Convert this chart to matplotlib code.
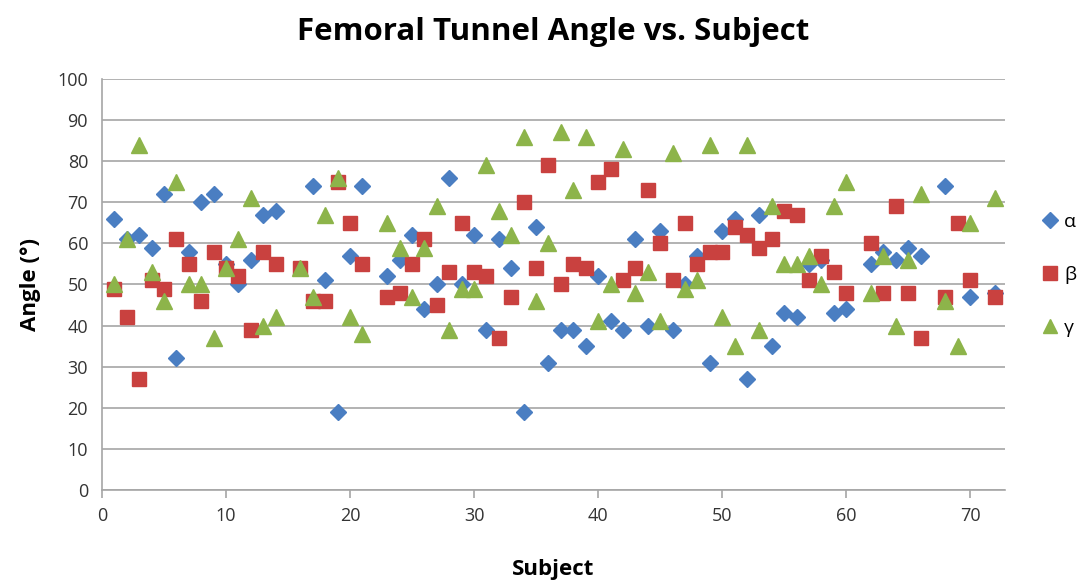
import matplotlib
matplotlib.use("Agg")
import matplotlib.pyplot as plt

plt.rcParams['font.family'] = ['Open Sans', 'DejaVu Sans']

subjects = [1, 2, 3, 4, 5, 6, 7, 8, 9, 10, 11, 12, 13, 14, 16, 17, 18, 19, 20, 21,
            23, 24, 25, 26, 27, 28, 29, 30, 31, 32, 33, 34, 35, 36, 37, 38, 39, 40,
            41, 42, 43, 44, 45, 46, 47, 48, 49, 50, 51, 52, 53, 54, 55, 56, 57, 58,
            59, 60, 62, 63, 64, 65, 66, 68, 69, 70, 72]

alpha_subjects = [1, 2, 3, 4, 5, 6, 7, 8, 9, 10, 11, 12, 13, 14, 17, 18, 19, 20, 21,
                  23, 24, 25, 26, 27, 28, 29, 30, 31, 32, 33, 34, 35, 36, 37, 38, 39, 40,
                  41, 42, 43, 44, 45, 46, 47, 48, 49, 50, 51, 52, 53, 54, 55, 56, 57, 58,
                  59, 60, 62, 63, 64, 65, 66, 68, 70, 72]
alpha = [66, 61, 62, 59, 72, 32, 58, 70, 72, 55, 50, 56, 67, 68, 74, 51, 19, 57, 74,
         52, 56, 62, 44, 50, 76, 50, 62, 39, 61, 54, 19, 64, 31, 39, 39, 35, 52,
         41, 39, 61, 40, 63, 39, 50, 57, 31, 63, 66, 27, 67, 35, 43, 42, 55, 56,
         43, 44, 55, 58, 56, 59, 57, 74, 47, 48]

beta = [49, 42, 27, 51, 49, 61, 55, 46, 58, 54, 52, 39, 58, 55, 54, 46, 46, 75, 65, 55,
        47, 48, 55, 61, 45, 53, 65, 53, 52, 37, 47, 70, 54, 79, 50, 55, 54, 75,
        78, 51, 54, 73, 60, 51, 65, 55, 58, 58, 64, 62, 59, 61, 68, 67, 51, 57,
        53, 48, 60, 48, 69, 48, 37, 47, 65, 51, 47]

gamma = [50, 61, 84, 53, 46, 75, 50, 50, 37, 54, 61, 71, 40, 42, 54, 47, 67, 76, 42, 38,
         65, 59, 47, 59, 69, 39, 49, 49, 79, 68, 62, 86, 46, 60, 87, 73, 86, 41,
         50, 83, 48, 53, 41, 82, 49, 51, 84, 42, 35, 84, 39, 69, 55, 55, 57, 50,
         69, 75, 48, 57, 40, 56, 72, 46, 35, 65, 71]

fig = plt.figure(figsize=(10.87, 5.84), dpi=100)
ax = fig.add_axes([0.0938, 0.161, 0.8307, 0.7037])

ax.plot(alpha_subjects, alpha, linestyle='none', marker='D', markersize=8.5,
        color='#4A7EC2', label='α', zorder=3)
ax.plot(subjects, beta, linestyle='none', marker='s', markersize=10.5,
        color='#C9413F', label='β', zorder=4)
ax.plot(subjects, gamma, linestyle='none', marker='^', markersize=11.5,
        color='#8DB44A', label='γ', zorder=5)

ax.set_xlim(0, 72.8)
ax.set_ylim(0, 100)
ax.set_xticks(range(0, 71, 10))
ax.set_yticks(range(0, 101, 10))
ax.grid(axis='y', color='#A6A6A6', linewidth=1.2)
ax.set_axisbelow(True)
for s in ['top', 'right']:
    ax.spines[s].set_visible(False)
for s in ['left', 'bottom']:
    ax.spines[s].set_color('#A6A6A6')
    ax.spines[s].set_linewidth(1.2)
ax.tick_params(axis='both', labelsize=13, color='#A6A6A6', length=6, width=1.2,
               labelcolor='#333333')
ax.tick_params(axis='x', pad=6)
ax.tick_params(axis='y', length=0, pad=10)

ax.set_title('Femoral Tunnel Angle vs. Subject', fontsize=22.5, fontweight='bold',
             pad=28)
ax.set_xlabel('Subject', fontsize=16, fontweight='bold', labelpad=25)
ax.set_ylabel('Angle (°)', fontsize=16, fontweight='bold', labelpad=12)

leg = ax.legend(loc='center left', bbox_to_anchor=(1.018, 0.523), frameon=False,
                fontsize=14, handletextpad=0.1, labelspacing=1.8, handlelength=1.2,
                markerscale=0.9)

fig.savefig('out.png', dpi=100)
